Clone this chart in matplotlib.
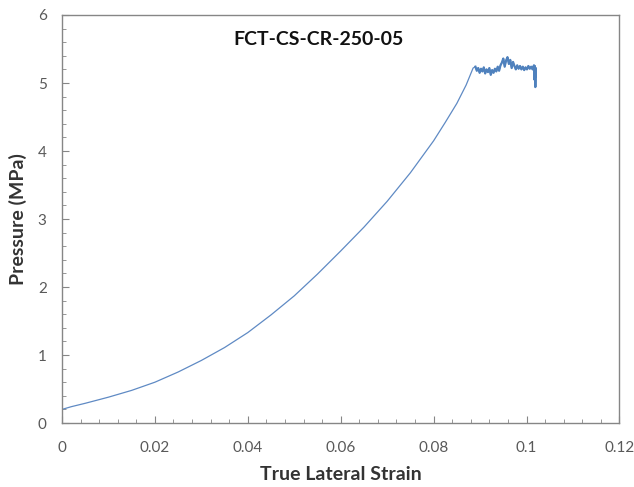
import matplotlib
matplotlib.use("Agg")
import matplotlib.pyplot as plt
from matplotlib.ticker import MultipleLocator

# 数据：近似值
loading_strain = [0.0, 0.0, 0.0, 0.002, 0.005, 0.010, 0.015, 0.020, 0.025,
                  0.030, 0.035, 0.040, 0.045, 0.050, 0.055, 0.060, 0.065,
                  0.070, 0.075, 0.080, 0.0825, 0.085, 0.0870, 0.0885]
loading_pressure = [0.12, 0.30, 0.20, 0.24, 0.29, 0.38, 0.48, 0.60, 0.75,
                    0.92, 1.11, 1.33, 1.59, 1.87, 2.19, 2.53, 2.88,
                    3.26, 3.68, 4.15, 4.42, 4.70, 4.97, 5.22]

plateau_strain = [0.0890, 0.0893, 0.0896, 0.0899, 0.0902, 0.0905, 0.0908,
                  0.0911, 0.0914, 0.0917, 0.0920, 0.0923, 0.0926, 0.0929,
                  0.0932, 0.0935, 0.0938, 0.0941, 0.0944, 0.0947, 0.0950,
                  0.0953, 0.0956, 0.0959, 0.0962, 0.0965, 0.0968, 0.0971,
                  0.0974, 0.0977, 0.0980, 0.0983, 0.0986, 0.0989, 0.0992,
                  0.0995, 0.0998, 0.1001, 0.1004, 0.1007, 0.1010, 0.1013,
                  0.1016, 0.1017, 0.1018, 0.1019, 0.1020, 0.1020]
plateau_pressure = [5.24, 5.18, 5.22, 5.15, 5.21, 5.17, 5.23, 5.14, 5.20,
                    5.16, 5.22, 5.12, 5.19, 5.15, 5.21, 5.17, 5.24, 5.18,
                    5.26, 5.30, 5.36, 5.24, 5.33, 5.38, 5.28, 5.34, 5.22,
                    5.31, 5.25, 5.20, 5.26, 5.21, 5.25, 5.20, 5.24, 5.19,
                    5.23, 5.20, 5.25, 5.21, 5.24, 5.20, 5.26, 5.05, 5.25,
                    4.94, 5.22, 5.10]

x_ticks = [0, 0.02, 0.04, 0.06, 0.08, 0.1, 0.12]
x_tick_labels = ["0", "0.02", "0.04", "0.06", "0.08", "0.1", "0.12"]
y_ticks = [0, 1, 2, 3, 4, 5, 6]

title_text = "FCT-CS-CR-250-05"
x_label = "True Lateral Strain"
y_label = "Pressure (MPa)"

plt.rcParams["font.family"] = ["Lato", "DejaVu Sans"]

fig = plt.figure(figsize=(6.34, 4.87), dpi=100)
ax = fig.add_axes([0.0978, 0.1314, 0.8792, 0.8378])

line_color = "#4f81bd"
ax.plot(loading_strain + plateau_strain,
        loading_pressure + plateau_pressure,
        color="#5f8ac4", linewidth=0.9)
ax.plot(plateau_strain, plateau_pressure, color=line_color, linewidth=1.6)

ax.set_xlim(0, 0.12)
ax.set_ylim(0, 6)
ax.set_xticks(x_ticks)
ax.set_xticklabels(x_tick_labels)
ax.set_yticks(y_ticks)
ax.xaxis.set_minor_locator(MultipleLocator(0.004))
ax.yaxis.set_minor_locator(MultipleLocator(0.2))

spine_color = "#868686"
for spine in ax.spines.values():
    spine.set_color(spine_color)
    spine.set_linewidth(1.0)

ax.tick_params(which="both", direction="in", colors=spine_color,
               labelcolor="#595959", labelsize=11)
ax.tick_params(which="major", length=5)
ax.tick_params(axis="x", which="major", pad=13)
ax.tick_params(axis="y", which="major", pad=11)
ax.tick_params(which="minor", length=3)
ax.tick_params(axis="x", which="both", top=False)
ax.tick_params(axis="y", which="both", right=False)

ax.set_xlabel(x_label, fontsize=14, fontweight="bold", color="#333333",
              labelpad=8)
ax.set_ylabel(y_label, fontsize=14, fontweight="bold", color="#333333",
              labelpad=8)

ax.text(0.46, 0.94, title_text, transform=ax.transAxes, ha="center",
        va="center", fontsize=14, fontweight="bold", color="#111111")

fig.savefig("out.png", dpi=100)
